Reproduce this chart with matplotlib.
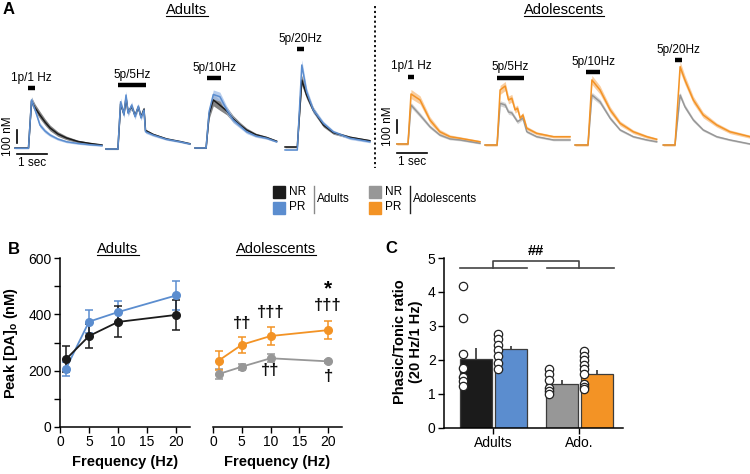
import numpy as np
import matplotlib.pyplot as plt
from matplotlib.patches import Rectangle
from matplotlib.lines import Line2D

plt.rcParams['font.family'] = ['Liberation Sans', 'DejaVu Sans']
plt.rcParams['mathtext.fontset'] = 'custom'
plt.rcParams['mathtext.rm'] = 'Liberation Sans'
plt.rcParams['mathtext.bf'] = 'Liberation Sans:bold'

# ---------------- data ----------------
stim_labels = ['1p/1 Hz', '5p/5Hz', '5p/10Hz', '5p/20Hz']

# panel A: averaged DA transients (nM), time in s from start of each trace
adult_times = [
    [0, 0.45, 0.55, 0.67, 0.83, 1.0, 1.17, 1.43, 1.72, 2.1, 2.5, 2.9],
    [0, 0.4, 0.49, 0.6, 0.67, 0.74, 0.86, 0.97, 1.08, 1.17, 1.27, 1.32, 1.57, 2.02, 2.47, 2.8],
    [0, 0.37, 0.47, 0.61, 0.83, 1.06, 1.27, 1.5, 1.72, 2.03, 2.39, 2.72],
    [0, 0.41, 0.56, 0.72, 0.94, 1.28, 1.61, 2.17, 2.83],
]
adult_nr = [
    [0, 0, 362, 308, 254, 200, 154, 108, 77, 50, 35, 23],
    [-8, -8, 340, 262, 385, 275, 320, 250, 315, 240, 300, 135, 105, 70, 50, 33],
    [0, 0, 260, 370, 330, 285, 225, 178, 138, 102, 80, 52],
    [8, 8, 523, 408, 293, 177, 118, 82, 56],
]
adult_nr_sem = [
    [4, 4, 30, 30, 28, 25, 22, 18, 14, 10, 8, 6],
    [4, 4, 25, 20, 25, 20, 20, 18, 18, 16, 16, 10, 8, 7, 6, 5],
    [4, 4, 35, 45, 40, 30, 25, 20, 16, 12, 10, 8],
    [6, 6, 40, 30, 22, 16, 12, 10, 8],
]
adult_pr = [
    [-2, -2, 370, 293, 177, 131, 100, 69, 48, 35, 25, 18],
    [-8, -8, 356, 254, 408, 267, 331, 241, 323, 231, 293, 125, 100, 67, 48, 31],
    [0, 0, 280, 412, 395, 293, 216, 170, 125, 92, 75, 48],
    [-15, -15, 639, 434, 293, 190, 125, 75, 48],
]
adult_pr_sem = [
    [4, 4, 25, 22, 18, 15, 12, 10, 8, 7, 6, 5],
    [4, 4, 30, 25, 30, 25, 25, 22, 22, 20, 20, 12, 10, 8, 7, 6],
    [4, 4, 30, 35, 35, 28, 22, 18, 14, 10, 8, 6],
    [4, 4, 40, 30, 22, 16, 12, 10, 8],
]

ado_times = [
    [0, 0.37, 0.47, 0.77, 1.1, 1.43, 1.77, 2.1, 2.77],
    [0, 0.4, 0.5, 0.67, 0.78, 0.89, 1.0, 1.08, 1.17, 1.26, 1.39, 1.72, 2.28, 2.83],
    [0, 0.43, 0.56, 0.83, 1.17, 1.5, 1.94, 2.39, 2.72],
    [0, 0.39, 0.56, 0.72, 1.0, 1.33, 1.78, 2.22, 2.89],
]
ado_nr = [
    [31, 31, 331, 254, 164, 100, 70, 62, 36],
    [23, 23, 344, 331, 277, 270, 231, 203, 216, 231, 125, 87, 62, 62],
    [23, 23, 408, 356, 229, 139, 87, 62, 48],
    [23, 23, 408, 318, 216, 139, 87, 62, 31],
]
ado_nr_sem = [
    [5, 5, 20, 18, 14, 10, 8, 7, 6],
    [5, 5, 20, 20, 18, 18, 16, 16, 14, 14, 10, 8, 7, 7],
    [5, 5, 22, 20, 15, 10, 8, 7, 6],
    [5, 5, 22, 18, 14, 10, 8, 7, 6],
]
ado_pr = [
    [31, 31, 416, 370, 216, 125, 87, 75, 48],
    [23, 23, 447, 477, 370, 383, 293, 306, 229, 254, 152, 113, 87, 87],
    [23, 23, 524, 447, 293, 190, 125, 87, 67],
    [23, 23, 626, 524, 370, 254, 177, 125, 87],
]
ado_pr_sem = [
    [8, 8, 35, 32, 25, 18, 14, 12, 10],
    [8, 8, 35, 35, 30, 30, 25, 25, 20, 20, 15, 12, 10, 10],
    [8, 8, 35, 32, 25, 18, 14, 12, 10],
    [8, 8, 40, 35, 28, 22, 16, 14, 12],
]

# panel B: peak [DA]o vs frequency
freq = [1, 5, 10, 20]
adult_nr_peak = [240, 323, 373, 398]
adult_nr_peak_err = [46, 42, 55, 52]
adult_pr_peak = [206, 374, 408, 467]
adult_pr_peak_err = [25, 40, 40, 52]
ado_nr_peak = [188, 214, 244, 233]
ado_nr_peak_err = [18, 10, 14, 5]
ado_pr_peak = [236, 292, 323, 344]
ado_pr_peak_err = [35, 29, 32, 33]

# panel C: phasic/tonic ratio
ratio_groups = ['Adults', 'Ado.']
ratio_means = [2.03, 2.33, 1.28, 1.57]  # adult NR, adult PR, ado NR, ado PR
ratio_errs = [0.33, 0.09, 0.13, 0.14]
ratio_points = [
    [4.17, 3.23, 2.18, 1.76, 1.50, 1.38, 1.23],
    [2.75, 2.60, 2.45, 2.30, 2.10, 1.90, 1.72],
    [1.72, 1.57, 1.42, 1.16, 1.08, 1.00],
    [2.26, 2.12, 1.99, 1.84, 1.72, 1.58, 1.29, 1.21, 1.13],
]

# ---------------- style ----------------
c_black = '#1b1b1b'
c_blue = '#5b8dcf'
c_grey = '#979797'
c_orange = '#f39325'
band_black = '#6e6e6e'
band_blue = '#a8c3ea'
band_grey = '#cfcfcf'
band_orange = '#f9c58e'

W, H = 750, 474
fig = plt.figure(figsize=(7.5, 4.74), dpi=100)


def fx(px):
    return px / W


def fy(py):
    return 1 - py / H


def add_axes_px(x0, y0, x1, y1):
    return fig.add_axes([fx(x0), fy(y1), (x1 - x0) / W, (y1 - y0) / H])


def underlined(x, y, s, size=10.5):
    t = fig.text(fx(x), fy(y), s, ha='center', va='center', fontsize=size)
    fig.canvas.draw()
    bb = t.get_window_extent()
    fig.add_artist(Line2D([bb.x0 / W, bb.x1 / W], [(bb.y0 + 1.5) / H] * 2,
                          transform=fig.transFigure, color='k', lw=0.8))


# ---------------- panel A ----------------
px_per_s = 30.0
nm_per_px = 7.7
ylim_a = (-(170 - 148) * nm_per_px, (148 - 20) * nm_per_px)

ax_ad = add_axes_px(0, 20, 375, 170)
ax_ad.set_xlim(0, 375 / px_per_s)
ax_ado = add_axes_px(378, 20, 750, 170)
ax_ado.set_xlim(0, 372 / px_per_s)

adult_starts = [0.5, 3.53, 6.5, 9.5]
ado_starts = [0.63, 3.57, 6.57, 9.51]
adult_stim = [(0.43, 0.67, 462), (0.4, 1.33, 485), (0.4, 0.87, 539), (0.4, 0.63, 762)]
ado_stim = [(0.36, 0.57, 549), (0.39, 1.31, 541), (0.37, 0.83, 585), (0.39, 0.63, 678)]

panels_a = [
    (ax_ad, adult_starts, adult_stim, adult_times,
     [(adult_nr, adult_nr_sem, c_black, band_black), (adult_pr, adult_pr_sem, c_blue, band_blue)]),
    (ax_ado, ado_starts, ado_stim, ado_times,
     [(ado_nr, ado_nr_sem, c_grey, band_grey), (ado_pr, ado_pr_sem, c_orange, band_orange)]),
]
for ax, starts, stims, times, groups in panels_a:
    ax.set_ylim(*ylim_a)
    ax.axis('off')
    for i in range(4):
        t = starts[i] + np.array(times[i])
        for means, sems, col, bcol in groups:
            m = np.array(means[i], float)
            s = np.array(sems[i], float)
            ax.fill_between(t, m - s, m + s, color=bcol, lw=0, alpha=0.85)
            ax.plot(t, m, color=col, lw=1.1)
        s0, s1, sy = stims[i]
        ax.plot([starts[i] + s0, starts[i] + s1], [sy, sy], color='k', lw=3.2,
                solid_capstyle='butt')
        ax.annotate(stim_labels[i], ((2 * starts[i] + s0 + s1) / 2, sy), xytext=(0, 7.5),
                    textcoords='offset points', ha='center', va='center', fontsize=8.5)

# scale bars
for ax, sx, vy0, hy in [(ax_ad, 17 / px_per_s, 38, -46), (ax_ado, 19 / px_per_s, 115, -36)]:
    ax.plot([sx, sx], [vy0, vy0 + 100], color='k', lw=1.2)
    ax.plot([sx, sx + 1], [hy, hy], color='k', lw=1.2)
    ax.text(sx - 0.3, vy0 + 50, '100 nM', rotation=90, ha='center', va='center', fontsize=8.5)
    ax.text(sx + 0.5, hy - 70, '1 sec', ha='center', va='center', fontsize=8.5)

# divider
fig.add_artist(Line2D([fx(375), fx(375)], [fy(6), fy(168)], transform=fig.transFigure,
                      color='k', lw=1.3, ls=(0, (1.2, 1.5))))

fig.text(fx(3), fy(9), 'A', fontsize=12, fontweight='bold', va='center')
underlined(187, 10, 'Adults')
underlined(564, 10, 'Adolescents')

# legend
for x0, items, lab, lcol in [(273, [('NR', c_black), ('PR', c_blue)], 'Adults', '#8a8a8a'),
                             (369, [('NR', c_grey), ('PR', c_orange)], 'Adolescents', '#222222')]:
    for j, (nm, col) in enumerate(items):
        yy = 186 + j * 15.5
        fig.add_artist(Rectangle((fx(x0), fy(yy + 12)), 12 / W, 12 / H, color=col,
                                 transform=fig.transFigure, zorder=5))
        fig.text(fx(x0 + 16), fy(yy + 6), nm, fontsize=8.5, va='center')
    lx = x0 + 41
    fig.add_artist(Line2D([fx(lx), fx(lx)], [fy(186), fy(213)], transform=fig.transFigure,
                          color=lcol, lw=1.0))
    fig.text(fx(lx + 2.5), fy(199.5), lab, fontsize=8.5, va='center')

# ---------------- panel B ----------------
axb1 = add_axes_px(60, 258, 190, 427)
axb2 = add_axes_px(213, 258, 342, 427)
for ax in (axb1, axb2):
    ax.set_xlim(0, 22.4)
    ax.set_ylim(0, 600)
    ax.spines['top'].set_visible(False)
    ax.spines['right'].set_visible(False)
    ax.set_xticks([0, 5, 10, 15, 20])
    ax.tick_params(direction='out', length=4, width=1, labelsize=10, pad=2)
    ax.spines['bottom'].set_linewidth(1.1)
    ax.spines['left'].set_linewidth(1.1)
    ax.set_xlabel('Frequency (Hz)', fontsize=10.5, fontweight='bold', labelpad=4)

axb1.set_yticks([0, 200, 400, 600])
axb1.set_yticks([100, 300, 500], minor=True)
axb1.tick_params(axis='y', which='minor', length=4, width=1)
axb1.set_ylabel(r'Peak [DA]$_{\mathbf{o}}$ (nM)', fontsize=10.5, fontweight='bold', labelpad=6)
axb2.spines['left'].set_visible(False)
axb2.set_yticks([])

for ax, series in [(axb1, [(adult_pr_peak, adult_pr_peak_err, c_blue),
                           (adult_nr_peak, adult_nr_peak_err, c_black)]),
                   (axb2, [(ado_nr_peak, ado_nr_peak_err, c_grey),
                           (ado_pr_peak, ado_pr_peak_err, c_orange)])]:
    for vals, errs, col in series:
        ax.errorbar(freq, vals, yerr=errs, fmt='-o', color=col, ms=5.5, lw=1.3,
                    elinewidth=1.1, capsize=3, capthick=1.1, clip_on=False)

sig_kw = dict(ha='center', va='center', fontsize=12, fontweight='bold', color='#111111')
axb2.text(5, 369, '††', **sig_kw)
axb2.text(10, 405, '†††', **sig_kw)
axb2.text(20, 433, '†††', **sig_kw)
axb2.text(20, 492, '*', ha='center', va='center', fontsize=15, fontweight='bold')
axb2.text(10, 202, '††', **sig_kw)
axb2.text(20, 178, '†', **sig_kw)

fig.text(fx(8), fy(249), 'B', fontsize=12, fontweight='bold', va='center')
underlined(118, 249, 'Adults')
underlined(276, 249, 'Adolescents')

# ---------------- panel C ----------------
axc = add_axes_px(444, 258, 623, 427.7)
axc.set_xlim(-0.57, 1.51)
axc.set_ylim(0, 5)
axc.spines['top'].set_visible(False)
axc.spines['right'].set_visible(False)
axc.spines['bottom'].set_linewidth(1.1)
axc.spines['left'].set_linewidth(1.1)
axc.tick_params(direction='out', length=4, width=1, labelsize=10, pad=2)
axc.set_yticks([0, 1, 2, 3, 4, 5])
axc.set_xticks([0, 1])
axc.set_xticklabels(ratio_groups)

bar_x = [-0.2, 0.21, 0.8, 1.21]
bar_cols = [c_black, c_blue, c_grey, c_orange]
axc.bar(bar_x, ratio_means, width=0.37, color=bar_cols, edgecolor='#3c3c3c', lw=0.9, zorder=2)
axc.vlines(bar_x, ratio_means, np.array(ratio_means) + np.array(ratio_errs), color='#222222',
           lw=1.1, zorder=3)
for bx, pts in zip(bar_x, ratio_points):
    axc.plot([bx - 0.15] * len(pts), pts, 'o', ms=6, mfc='white', mec='#222222', mew=0.9,
             zorder=4, clip_on=False)

br = '#444444'
axc.plot([-0.38, 0.40], [4.71, 4.71], color=br, lw=1.2, clip_on=False)
axc.plot([0.63, 1.40], [4.71, 4.71], color=br, lw=1.2, clip_on=False)
axc.plot([0, 0, 1, 1], [4.71, 4.92, 4.92, 4.71], color=br, lw=1.2, clip_on=False)
axc.text(0.5, 5.2, '##', ha='center', va='center', fontsize=10.5, fontweight='bold')

fig.text(fx(408), fy(342), 'Phasic/Tonic ratio\n(20 Hz/1 Hz)', rotation=90, ha='center',
         va='center', fontsize=10.5, fontweight='bold', linespacing=1.15)
fig.text(fx(385), fy(248), 'C', fontsize=12, fontweight='bold', va='center')

fig.savefig('out.png', dpi=100)
